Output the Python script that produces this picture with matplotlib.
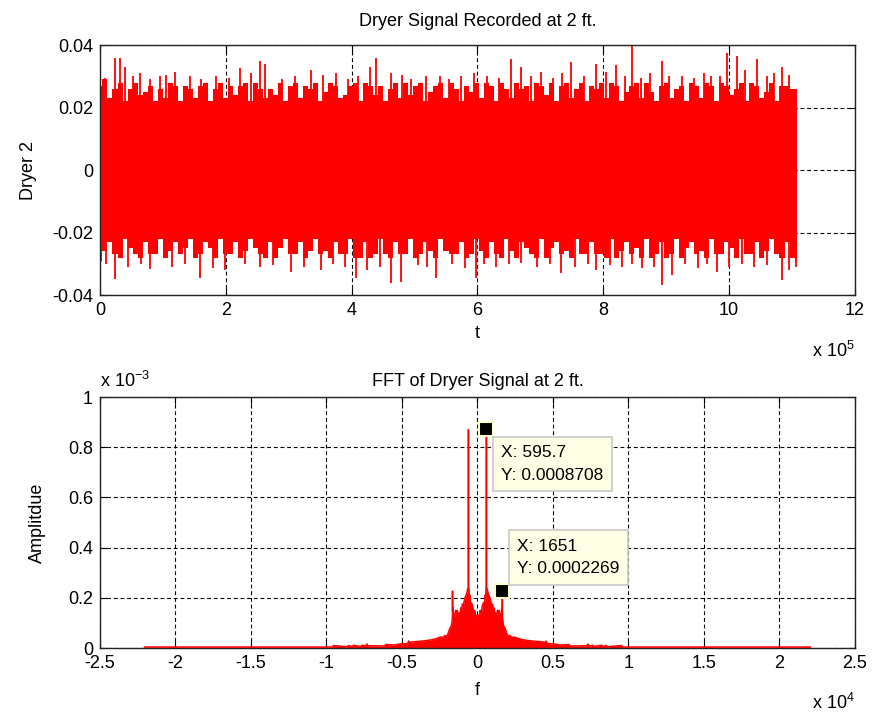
import numpy as np
import matplotlib
matplotlib.use("Agg")
import matplotlib.pyplot as plt
from matplotlib.ticker import FixedLocator, FixedFormatter

plt.rcParams['font.family'] = ['Liberation Sans', 'DejaVu Sans']
plt.rcParams['mathtext.fontset'] = 'custom'
plt.rcParams['mathtext.rm'] = 'Liberation Sans'
plt.rcParams['mathtext.it'] = 'Liberation Sans:italic'

# ---------------- data ----------------
# Time-domain signal (amplitudes in units of 1e-3)
t_end = 11.08e5
# dense core envelope (evenly spaced across the record)
core_top = [27, 29, 23, 26, 28, 22, 26, 28, 24, 25, 27, 22, 26, 23, 28, 27, 22, 27, 26, 23,
            27, 28, 22, 26, 28, 23, 27, 24, 27, 28, 22, 28, 26, 23, 26, 24, 28, 22, 27, 28,
            23, 27, 26, 28, 22, 25, 28, 27, 23, 24, 27, 28, 22, 28, 27, 24, 27, 22, 26, 28,
            23, 28, 24, 27, 28, 22, 25, 27, 28, 23, 28, 26, 22, 27, 25, 28, 23, 28, 27, 22,
            28, 26, 23, 28, 26, 27, 22, 28, 27, 24, 28, 22, 27, 28, 23, 26, 28, 22, 27, 26,
            28, 23, 28, 27, 22, 25, 27, 28, 23, 28, 25, 22, 27, 28, 23, 26, 27, 22, 28, 27,
            23, 28, 27, 22, 28, 27, 24, 26, 28, 22, 28, 27, 23, 25, 28, 22, 27, 27, 26, 26]
core_bot = [-29, -26, -23, -27, -28, -22, -25, -27, -28, -23, -27, -27, -22, -28, -26, -23, -27, -25, -22, -28,
            -27, -23, -25, -28, -22, -27, -27, -23, -28, -26, -22, -25, -27, -28, -23, -28, -25, -22, -27, -27,
            -23, -28, -26, -22, -27, -26, -28, -23, -27, -27, -22, -28, -28, -23, -28, -27, -22, -27, -28, -23,
            -27, -27, -22, -28, -27, -23, -26, -28, -22, -26, -27, -27, -23, -28, -27, -22, -26, -28, -23, -27,
            -28, -22, -26, -28, -23, -25, -27, -28, -22, -28, -25, -23, -27, -26, -28, -22, -27, -27, -23, -27,
            -27, -28, -22, -28, -26, -23, -27, -25, -28, -22, -28, -27, -23, -28, -27, -22, -28, -25, -23, -27,
            -26, -28, -22, -27, -27, -23, -25, -28, -22, -27, -27, -23, -28, -26, -22, -27, -28, -23, -28, -29]
# individual thin spikes beyond the core (t in units of 1e5, amplitude 1e-3)
spk_top_t = [0.08, 0.24, 0.32, 0.40, 0.52, 0.64, 0.80, 0.96, 1.05, 1.20, 1.43, 1.60, 1.85, 2.05, 2.23,
             2.40, 2.55, 2.63, 2.90, 3.10, 3.35, 3.55, 3.75, 3.95, 4.10, 4.30, 4.38, 4.62, 4.80, 4.95,
             5.18, 5.40, 5.55, 5.74, 5.95, 6.15, 6.35, 6.54, 6.70, 6.85, 7.01, 7.20, 7.35, 7.49, 7.70,
             7.89, 8.05, 8.21, 8.35, 8.45, 8.60, 8.75, 8.93, 9.05, 9.25, 9.45, 9.60, 9.72, 9.85, 9.96,
             10.12, 10.25, 10.44, 10.60, 10.72, 10.84, 10.95]
spk_top_v = [29.5, 36, 36, 33, 30, 31, 29, 30, 30.5, 31.5, 30, 29, 30, 29.5, 32.5,
             31, 35, 34, 29, 30, 32, 30.5, 31, 29, 30, 33, 36, 31, 30.5, 29,
             30, 30, 29, 30, 31, 30, 29.5, 35.5, 33, 30, 31.5, 29.5, 31, 34.5, 30,
             34, 31.5, 33.5, 30, 40, 29.5, 31, 35, 30, 30, 29.5, 31, 30, 30, 37.5,
             36.5, 32, 35.5, 30, 31, 33, 30.5]
spk_bot_t = [0.10, 0.24, 0.45, 0.65, 0.80, 1.15, 1.35, 1.59, 1.80, 1.99, 2.30, 2.55, 2.75, 3.03, 3.25,
             3.51, 3.70, 3.90, 4.07, 4.25, 4.45, 4.62, 4.78, 5.05, 5.20, 5.34, 5.60, 5.80, 5.98, 6.10,
             6.30, 6.50, 6.70, 6.95, 7.15, 7.33, 7.55, 7.75, 7.89, 8.10, 8.30, 8.45, 8.61, 8.80, 8.93,
             9.09, 9.30, 9.50, 9.65, 9.80, 10.00, 10.20, 10.40, 10.60, 10.84, 10.95, 11.06]
spk_bot_v = [-30, -35, -31, -30, -31.8, -31, -30, -34.4, -31.5, -32, -30, -31, -30.5, -32.5, -31,
             -32, -30, -31, -34.7, -32, -31, -36.3, -35.7, -30.5, -31, -34.7, -30, -31.5, -34.7, -30,
             -31, -30, -29.9, -31, -30, -33, -31, -30, -32, -30.5, -31, -30, -31.5, -31, -36.8,
             -33.6, -30, -31.5, -30, -32.5, -31, -30, -31, -30.5, -35.2, -32, -31]

# FFT magnitude, positive-frequency side (Hz, amplitude in 1e-3); spectrum is symmetric
f_pos = [0, 60, 100, 180, 250, 330, 400, 460, 500, 540, 560, 588, 595.7, 603, 650, 700, 760, 830,
         900, 950, 1000, 1050, 1110, 1160, 1200, 1270, 1330, 1380, 1440, 1490, 1560, 1620, 1645,
         1651, 1657, 1720, 1820, 1930, 2040, 2150, 2300, 2450, 2700, 3000, 3350, 3800, 4250, 4500,
         4550, 4620, 5130, 5500, 6060, 6150, 7250, 7320, 7400, 7650, 7700, 8220, 8280, 8550, 8620,
         9540, 9600, 14000, 22050]
a_pos = [0.11, 0.13, 0.12, 0.15, 0.14, 0.17, 0.18, 0.17, 0.21, 0.20, 0.23, 0.245, 0.8708, 0.24,
         0.235, 0.22, 0.21, 0.20, 0.18, 0.17, 0.175, 0.15, 0.16, 0.12, 0.14, 0.13, 0.15, 0.14,
         0.15, 0.13, 0.12, 0.16, 0.15, 0.2269, 0.12, 0.09, 0.08, 0.06, 0.045, 0.05, 0.042, 0.044,
         0.038, 0.033, 0.03, 0.027, 0.025, 0.022, 0.028, 0.018, 0.016, 0.012, 0.014, 0.008, 0.009,
         0.016, 0.008, 0.011, 0.006, 0.011, 0.006, 0.010, 0.005, 0.010, 0.004, 0.004, 0.004]

tip1 = (595.7, 0.0008708)
tip2 = (1651, 0.0002269)

x1_ticks = [0, 2e5, 4e5, 6e5, 8e5, 10e5, 12e5]
x1_labels = ['0', '2', '4', '6', '8', '10', '12']
y1_ticks = [-0.04, -0.02, 0, 0.02, 0.04]
y1_labels = ['-0.04', '-0.02', '0', '0.02', '0.04']
x2_ticks = [-2.5e4, -2e4, -1.5e4, -1e4, -0.5e4, 0, 0.5e4, 1e4, 1.5e4, 2e4, 2.5e4]
x2_labels = ['-2.5', '-2', '-1.5', '-1', '-0.5', '0', '0.5', '1', '1.5', '2', '2.5']
y2_ticks = [0, 0.2e-3, 0.4e-3, 0.6e-3, 0.8e-3, 1e-3]
y2_labels = ['0', '0.2', '0.4', '0.6', '0.8', '1']

# ---------------- figure ----------------
FS = 13
RED = '#ff0000'
fig = plt.figure(figsize=(8.73, 7.14), dpi=100)
ax1 = fig.add_axes([0.1145, 0.5868, 0.8648, 0.3501])
ax2 = fig.add_axes([0.1145, 0.0924, 0.8648, 0.3515])

grid_kw = dict(color='black', linestyle=(0, (3.5, 2.5)), linewidth=0.8)


def style(ax, xt, xl, yt, yl):
    ax.xaxis.set_major_locator(FixedLocator(xt))
    ax.xaxis.set_major_formatter(FixedFormatter(xl))
    ax.yaxis.set_major_locator(FixedLocator(yt))
    ax.yaxis.set_major_formatter(FixedFormatter(yl))
    ax.tick_params(direction='in', top=True, right=True, length=5, width=0.8,
                   labelsize=FS, pad=5, color='black')
    ax.set_axisbelow(True)
    ax.grid(True, **grid_kw)
    for s in ax.spines.values():
        s.set_linewidth(1.0)
        s.set_color('#222222')


# top: signal
t = np.linspace(0, t_end, len(core_top))
ax1.fill_between(t, np.array(core_bot) * 1e-3, np.array(core_top) * 1e-3, step='mid',
                 color=RED, linewidth=0, zorder=2)
ax1.vlines(np.array(spk_top_t) * 1e5, 0, np.array(spk_top_v) * 1e-3, color=RED, linewidth=1.3, zorder=2)
ax1.vlines(np.array(spk_bot_t) * 1e5, np.array(spk_bot_v) * 1e-3, 0, color=RED, linewidth=1.3, zorder=2)
ax1.set_xlim(0, 12e5)
ax1.set_ylim(-0.04, 0.04)
style(ax1, x1_ticks, x1_labels, y1_ticks, y1_labels)
ax1.set_title('Dryer Signal Recorded at 2 ft.', fontsize=FS, pad=14)
ax1.set_xlabel('t', fontsize=FS, labelpad=4)
ax1.set_ylabel('Dryer 2', fontsize=FS, labelpad=11)
ax1.text(1.0, -0.225, r'x 10$^{\mathregular{5}}$', transform=ax1.transAxes,
         ha='right', va='center', fontsize=FS)

# bottom: FFT
fp = np.array(f_pos)
ap = np.array(a_pos) * 1e-3
f_all = np.concatenate([-fp[::-1], fp[1:]])
a_all = np.concatenate([ap[::-1], ap[1:]])
ax2.fill_between(f_all, 0, a_all, color=RED, linewidth=0, zorder=2)
ax2.plot(f_all, a_all, color=RED, linewidth=1.1, zorder=3)
ax2.set_xlim(-2.5e4, 2.5e4)
ax2.set_ylim(0, 1e-3)
style(ax2, x2_ticks, x2_labels, y2_ticks, y2_labels)
ax2.set_title('FFT of Dryer Signal at 2 ft.', fontsize=FS, pad=8)
ax2.set_xlabel('f', fontsize=FS, labelpad=7)
ax2.set_ylabel('Amplitdue', fontsize=FS, labelpad=16)
ax2.text(1.0, -0.22, r'x 10$^{\mathregular{4}}$', transform=ax2.transAxes,
         ha='right', va='center', fontsize=FS)
ax2.text(0.0, 1.065, r'x 10$^{\mathregular{-3}}$', transform=ax2.transAxes,
         ha='left', va='center', fontsize=FS)

# data tips
box_kw = dict(boxstyle='square,pad=0.5', facecolor='#ffffe6', edgecolor='#c8c8c8', linewidth=1.2)
for (x, y) in (tip1, tip2):
    ax2.plot([x], [y], marker='s', markersize=9.5, markerfacecolor='black',
             markeredgecolor='#ffffcc', markeredgewidth=1.5, zorder=6, linestyle='none')
ax2.annotate('X: 595.7\nY: 0.0008708', xy=tip1, xytext=(15, -16), textcoords='offset pixels',
             ha='left', va='top', fontsize=FS - 0.5, bbox=box_kw, zorder=7, linespacing=1.6)
ax2.annotate('X: 1651\nY: 0.0002269', xy=tip2, xytext=(15, 15), textcoords='offset pixels',
             ha='left', va='bottom', fontsize=FS - 0.5, bbox=box_kw, zorder=7, linespacing=1.6)

fig.savefig('out.png', dpi=100, facecolor='white')
